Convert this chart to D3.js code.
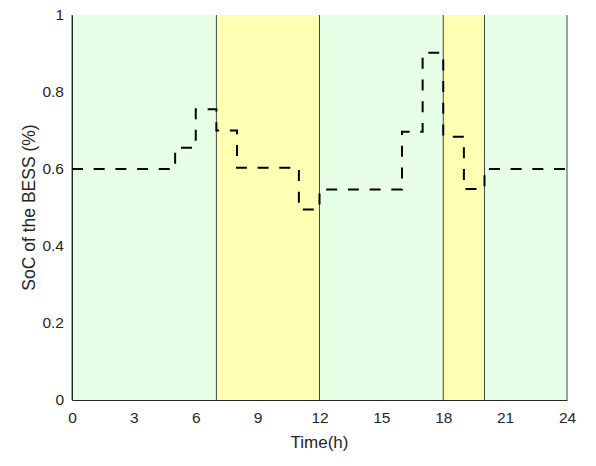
<!DOCTYPE html>
<html>
<head>
<meta charset="utf-8">
<script src="https://cdn.jsdelivr.net/npm/d3@7"></script>
<style>
  body { margin: 0; background: #fff; }
  text { font-family: "Liberation Sans", Arial, sans-serif; fill: #262626; }
</style>
</head>
<body>
<div id="chart"></div>
<script>
// hourly SoC steps (start hour, end hour, value)
const stepStart = [0, 5, 6, 7, 8, 11, 12, 16, 17, 18, 19, 20];
const stepEnd   = [5, 6, 7, 8, 11, 12, 16, 17, 18, 19, 20, 24];
const socValues = [0.6, 0.655, 0.755, 0.70, 0.603, 0.495, 0.547, 0.697, 0.902, 0.684, 0.548, 0.6];

// shaded periods
const bandStart = [0, 7, 12, 18, 20];
const bandEnd   = [7, 12, 18, 20, 24];
const bandType  = ["off", "peak", "off", "peak", "off"];

const xTicks = [0, 3, 6, 9, 12, 15, 18, 21, 24];
const yTicks = [0, 0.2, 0.4, 0.6, 0.8, 1];

const W = 596, H = 466;
const margin = {left: 72, right: 29, top: 15, bottom: 66};

const svg = d3.select("#chart").append("svg")
    .attr("width", W)
    .attr("height", H);

const x = d3.scaleLinear().domain([0, 24]).range([margin.left, W - margin.right]);
const y = d3.scaleLinear().domain([0, 1]).range([H - margin.bottom, margin.top]);

const colors = {off: "#e6ffe6", peak: "#ffffb3"};

// bands
svg.selectAll("rect.band")
  .data(bandStart.map((s, i) => ({s: s, e: bandEnd[i], t: bandType[i]})))
  .enter().append("rect")
    .attr("class", "band")
    .attr("x", d => x(d.s))
    .attr("width", d => x(d.e) - x(d.s))
    .attr("y", y(1))
    .attr("height", y(0) - y(1))
    .attr("fill", d => colors[d.t]);

// band edges
const edges = bandStart.concat([24]);
svg.selectAll("line.edge")
  .data(edges)
  .enter().append("line")
    .attr("x1", d => x(d)).attr("x2", d => x(d))
    .attr("y1", y(1)).attr("y2", y(0))
    .attr("stroke", "#404840")
    .attr("stroke-width", 1);

// axes
const xAxis = d3.axisBottom(x).tickValues(xTicks).tickSize(0).tickPadding(12);
const yAxis = d3.axisLeft(y).tickValues(yTicks).tickSize(0).tickPadding(8)
    .tickFormat(d => d3.format("")(d));

const gx = svg.append("g").attr("transform", "translate(0," + y(0) + ")").call(xAxis);
gx.select(".domain").attr("stroke", "#262626");
gx.selectAll("text").style("font-size", "15.5px").attr("fill", "#262626");

const gy = svg.append("g").attr("transform", "translate(" + x(0) + ",0)").call(yAxis);
gy.select(".domain").attr("stroke", "#262626");
gy.selectAll("text").style("font-size", "15.5px").attr("fill", "#262626");

// step line
const pts = [];
socValues.forEach((v, i) => {
  pts.push([stepStart[i], v]);
  pts.push([stepEnd[i], v]);
});
const line = d3.line().x(d => x(d[0])).y(d => y(d[1]));

svg.append("path")
    .datum(pts)
    .attr("d", line)
    .attr("fill", "none")
    .attr("stroke", "#000")
    .attr("stroke-width", 2)
    .attr("stroke-dasharray", "11,10.7");

// labels
svg.append("text")
    .attr("x", (x(0) + x(24)) / 2)
    .attr("y", 448)
    .attr("text-anchor", "middle")
    .style("font-size", "17px")
    .text("Time(h)");

svg.append("text")
    .attr("transform", "translate(35," + ((y(0) + y(1)) / 2) + ") rotate(-90)")
    .attr("text-anchor", "middle")
    .style("font-size", "17.5px")
    .text("SoC of the BESS (%)");
</script>
</body>
</html>
